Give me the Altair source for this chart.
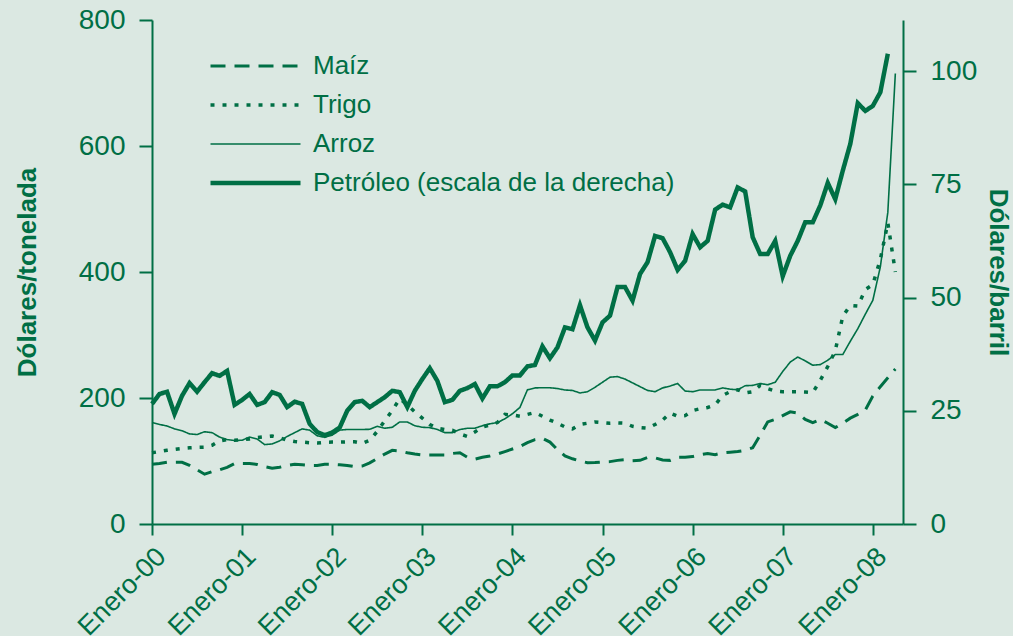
import altair as alt
import pandas as pd

GREEN = "#006f45"
BG = "#dbe8e2"
FONT = "Liberation Sans"

series = ["Maíz", "Trigo", "Arroz", "Petróleo (escala de la derecha)"]
dashes = [[15, 9], [4, 8], [1, 0], [1, 0]]
widths = [3, 3.5, 1.6, 4.5]

# Monthly values, January 2000 onwards (US$/tonne)
maiz = [95, 96, 98, 98, 98, 93, 86, 79, 83, 86, 90, 96,
        96, 96, 94.5, 91, 88.5, 90, 93, 95, 94, 93, 93, 94.8,
        94.8, 94, 93, 91, 92, 97, 104, 111, 117, 116, 113, 111,
        109.5, 109.5, 109.5, 109.5, 112, 113, 106, 103, 105.9, 108, 111, 115,
        119, 123, 129, 134, 136, 130, 118, 108, 103.5, 100, 97.3, 97.5,
        98.5, 99, 101, 102, 100.5, 101, 105.5, 105, 101.5, 101, 105.9, 105.9,
        107, 110, 112, 110, 113, 114, 115, 117, 121, 141, 162, 166,
        172, 178, 176, 166, 161, 166, 160, 153, 160, 168, 174, 181,
        203, 218, 232, 246]
trigo = [113, 115, 117, 118.5, 120, 121, 121.7, 122, 125, 132, 134, 133,
         134, 135, 137, 138.5, 139.7, 137, 133, 131, 130, 129, 128.5, 129.7,
         130, 130, 130.5, 130.5, 128, 133, 147, 164, 180, 199, 189, 178,
         168, 158, 152, 150, 149, 143, 139, 146, 154, 157, 161, 174,
         173, 171, 174, 177, 171, 165, 160, 154, 151, 158, 160, 162,
         161, 160, 160.5, 160, 155, 153, 152, 158, 165, 176, 171, 172,
         180, 183, 185, 189, 204, 210, 213, 208, 210, 220, 215, 211,
         210, 210, 210, 209.5, 208.5, 228, 250, 275, 330, 347, 346, 372,
         380, 420, 478, 400]
arroz = [161, 158, 155.6, 151, 148, 143, 142, 146.5, 145, 138, 134, 132.5,
         133, 138, 135, 126, 127, 132, 139, 145, 151, 149, 140, 137.6,
         141, 149, 150, 150, 150, 150.3, 155, 152, 153.5, 162, 162, 156,
         153.5, 153, 150, 145, 145, 150, 152, 152, 156, 159, 161, 167,
         175, 185, 213, 216, 216.3, 216.3, 215, 212.7, 212, 208, 210, 217,
         225, 233, 234, 230, 224, 218, 212, 210, 216, 219, 223, 211,
         210, 212.7, 212.7, 212.7, 216, 214, 213, 219.5, 220, 223, 221, 225,
         242, 257, 265, 259, 252, 253, 260, 269, 269, 290, 310, 333,
         355, 408, 495, 715]
# US$/barrel
petroleo = [26.5, 28.7, 29.2, 24.3, 28.3, 31.1, 29.2, 31.3, 33.3, 32.7, 33.8, 26.3,
            27.4, 28.7, 26.3, 26.9, 29.1, 28.5, 25.8, 27.0, 26.5, 22.1, 20.3, 19.6,
            20.2, 21.3, 25.0, 26.9, 27.2, 25.8, 26.9, 28.0, 29.4, 29.1, 25.8, 29.4,
            32.0, 34.4, 31.6, 26.9, 27.4, 29.4, 30.0, 30.9, 27.7, 30.4, 30.4, 31.3,
            32.8, 32.8, 34.8, 35.1, 39.2, 36.6, 39.0, 43.4, 43.0, 48.3, 43.4, 40.5,
            44.5, 46.0, 52.3, 52.3, 49.3, 55.2, 57.8, 63.6, 63.1, 60.0, 56.1, 58.1,
            64.0, 61.1, 62.5, 69.4, 70.5, 69.9, 74.3, 73.4, 63.3, 59.6, 59.6, 62.5,
            54.7, 59.2, 62.5, 66.6, 66.6, 70.3, 75.3, 71.7, 78.0, 83.9, 92.9, 91.2,
            92.3, 95.3, 103.8]

years = list(range(2000, 2009))
left_ticks = [0, 200, 400, 600, 800]
right_ticks = [0, 25, 50, 75, 100]

n = len(maiz)
fecha = [2000 + i / 12 for i in range(n)]

rows = []
for name, vals in zip(series[:3], [maiz, trigo, arroz]):
    for f, v in zip(fecha, vals):
        rows.append({"fecha": f, "valor": v, "serie": name})
grains = pd.DataFrame(rows)
oil = pd.DataFrame({"fecha": fecha[:len(petroleo)], "valor": petroleo,
                    "serie": series[3]})

x_enc = alt.X(
    "fecha:Q",
    scale=alt.Scale(domain=[2000, 2008.335], nice=False, zero=False),
    axis=alt.Axis(values=years,
                  labelExpr="'Enero-' + slice(toString(datum.value), 2)",
                  labelAngle=-45, labelAlign="right", labelBaseline="top",
                  labelPadding=8, tickSize=11, title=None, labelFontSize=27,
                  labelFlush=False, labelOverlap=False),
)

legend = alt.Legend(title=None, orient="none", legendX=56, legendY=33,
                    symbolType="stroke", symbolSize=8100, clipHeight=26,
                    symbolStrokeColor=GREEN, labelFontSize=26,
                    labelColor=GREEN, labelFont=FONT, labelOffset=10,
                    rowPadding=13, padding=0, labelLimit=0)

dash_enc = alt.StrokeDash("serie:N", scale=alt.Scale(domain=series, range=dashes),
                          legend=legend)
width_enc = alt.StrokeWidth("serie:N",
                            scale=alt.Scale(type="ordinal", domain=series, range=widths),
                            legend=legend)

grains_chart = alt.Chart(grains).mark_line(color=GREEN).encode(
    x=x_enc,
    y=alt.Y("valor:Q", scale=alt.Scale(domain=[0, 800], nice=False),
            axis=alt.Axis(values=left_ticks, orient="left",
                          title="Dólares/tonelada", titlePadding=38)),
    strokeDash=dash_enc,
    strokeWidth=width_enc,
)

oil_chart = alt.Chart(oil).mark_line(color=GREEN).encode(
    x=x_enc,
    y=alt.Y("valor:Q", scale=alt.Scale(domain=[0, 111.26], nice=False),
            axis=alt.Axis(values=right_ticks, orient="right",
                          title="Dólares/barril", titlePadding=8)),
    strokeDash=dash_enc,
    strokeWidth=width_enc,
)

chart = alt.layer(grains_chart, oil_chart).resolve_scale(
    y="independent"
).properties(
    width=751, height=504,
    padding={"left": 152, "top": 20, "right": 110, "bottom": 112},
    autosize=alt.AutoSizeParams(type="none"),
    background=BG,
).configure_view(stroke=None).configure_axis(
    domainColor=GREEN, domainWidth=2, tickColor=GREEN, tickWidth=2,
    labelColor=GREEN, titleColor=GREEN, labelFont=FONT, titleFont=FONT,
    labelFontSize=28, titleFontSize=26, titleFontWeight="bold",
    tickSize=13, labelPadding=14, grid=False,
)

chart.save("out.html", embed_options={"renderer": "svg", "actions": False})
